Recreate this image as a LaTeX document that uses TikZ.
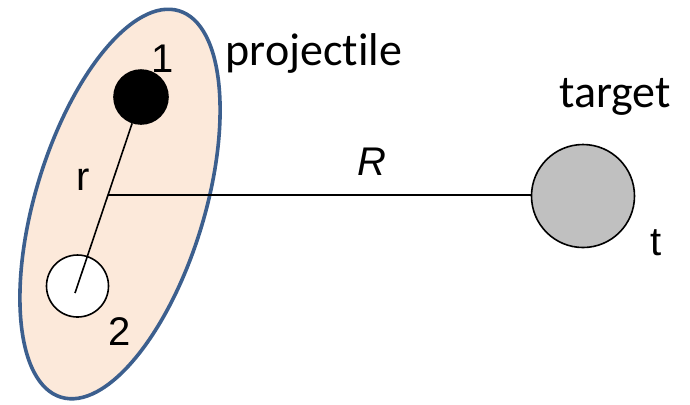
\documentclass[tikz,border=0pt]{standalone}
\usepackage{fontspec}
\setmainfont{Liberation Sans}
\newfontfamily\calibri[Ligatures=NoCommon]{Carlito}
\usetikzlibrary{calc,shapes.geometric}
\definecolor{shell}{HTML}{FCE9DA}
\definecolor{shelledge}{HTML}{3C5F8E}
\definecolor{tgray}{HTML}{C0C0C0}
\tikzset{
  nucleus/.style={circle,draw=black,line width=0.8pt,fill=#1,inner sep=0pt},
  nucleus/.default=white,
  lbl/.style={anchor=base,inner sep=0pt,font=\fontsize{20pt}{24pt}\selectfont},
  tag/.style={anchor=base,inner sep=0pt,font=\calibri\fontsize{23pt}{27pt}\selectfont},
  link/.style={line width=0.8pt,draw=black},
}

\begin{document}
\begin{tikzpicture}[x=0.5pt,y=-0.5pt]
    \useasboundingbox (0,0) rectangle (690,404);

    \node[ellipse,draw=shelledge,fill=shell,line width=1.8pt,inner sep=0pt,
      minimum width=202pt,minimum height=84.5pt,rotate=73] (proj) at (120,204) {};

    \node[nucleus=black,minimum size=27pt] (b1) at (141,97) {};
    \node[nucleus,minimum size=31pt] (b2) at (77.5,286) {};
    \node[nucleus=tgray,minimum size=51.5pt] (tgt) at (583,196) {};

    \coordinate (rend) at (75,293);
    \coordinate (mid) at ($(b1.center)!0.5!(rend)$);
    \draw[link] (b1) -- (rend);
    \draw[link] (mid) -- (mid -| tgt.west);

    \node[lbl] (n1) at (163,72) {1};
    \node[lbl] (n2) at (120,345) {2};
    \node[lbl] (lr) at (83,190) {r};
    \node[lbl] (lR) at (372,175) {\itshape R};
    \node[lbl] (lt) at (656,255) {t};

    \node[tag] (lproj) at (314,65) {projectile};
    \node[tag] (ltgt) at (615,107) {target};
  \end{tikzpicture}
\end{document}
